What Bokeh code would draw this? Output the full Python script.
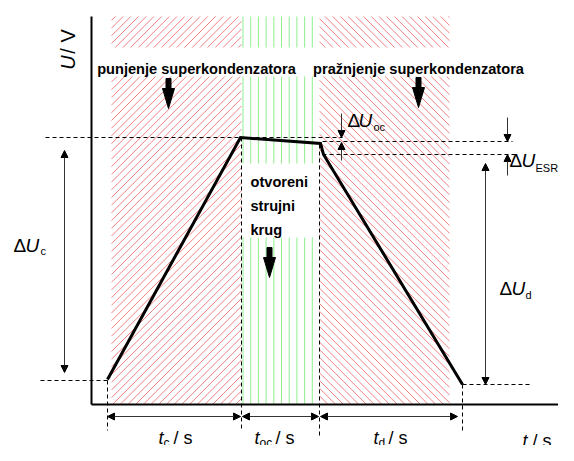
import numpy as np
from bokeh.plotting import figure
from bokeh.models import Range1d, Arrow, NormalHead
from bokeh.core.properties import value
from bokeh.embed import file_html
from bokeh.resources import INLINE

FONT = "Liberation Sans"

# --- schematic voltage curve (t, U) in drawing units ---
curve_t = [107, 240, 320, 323, 462]
curve_u = [379, 137, 143, 154, 384]

# --- zones ---
charge_zone = [111, 241]
oc_zone = [242, 313]
dis_zone = [319, 449]
red_bands = [[16, 47], [76, 404]]
green_bands = [[16, 47], [76, 163], [237, 404]]

# --- dashed guide lines: x0, y0, x1, y1 ---
dash_x0 = [45, 322, 322, 40, 107, 241, 319, 462, 462]
dash_y0 = [137, 141, 154, 380, 380, 137, 144, 384, 384]
dash_x1 = [342, 512, 515, 107, 107, 241, 319, 530, 462]
dash_y1 = [137, 141, 154, 380, 430, 430, 435, 384, 430]

# --- thin arrows: x0, y0, x1, y1, double-headed ---
arr_x0 = [64, 485, 341, 341, 507, 507, 107, 242, 320]
arr_y0 = [150, 163, 113, 160, 117, 175, 416, 416, 416]
arr_x1 = [64, 485, 341, 341, 507, 507, 240, 318, 457]
arr_y1 = [372, 384, 137, 142, 141, 154, 416, 416, 416]
arr_double = [True, True, False, False, False, False, True, True, True]

# --- fat arrows: centre x, top, tip ---
fat_x = [168, 418, 269]
fat_top = [78, 77, 247]
fat_tip = [108, 107, 277]

# --- texts ---
phase_text = ["punjenje superkondenzatora", "pražnjenje superkondenzatora"]
phase_x = [196, 418]
phase_y = [68, 68]
oc_text = ["otvoreni", "strujni", "krug"]
oc_x = [250, 250, 250]
oc_y = [181, 205, 229]

delta_x = [13, 499, 347, 509]
delta_y = [245, 288, 120, 160]
deltaU_x = [25, 511, 358, 521]
delta_sub = ["c", "d", "oc", "ESR"]
delta_sub_x = [40, 525, 373, 535]
delta_sub_y = [250, 294, 126, 167]

t_x = [158, 254, 373, 522]
t_y = [437, 437, 437, 440]
t_sub = ["c", "oc", "d"]
t_sub_x = [163, 259, 378]
t_sub_y = [442, 442, 442]
t_unit_x = [173, 275, 388, 532]

p = figure(width=558, height=445, x_range=Range1d(0, 558), y_range=Range1d(445, 0),
           output_backend="svg", toolbar_location=None, min_border=0,
           x_axis_location=None, y_axis_location=None)
p.outline_line_color = None
p.grid.visible = False
p.background_fill_color = "white"
p.border_fill_color = "white"

# ---- hatching (drawn as line segments clipped to each band) ----
STEP = 7.7

def diag_segments(zx, bands, direction):
    x0s, y0s, x1s, y1s = [], [], [], []
    l, r = zx
    for t, b in bands:
        if direction > 0:   # "/" : x + y = c
            cs = np.arange(0, 1200, STEP)
            for c in cs:
                xa, xb = max(l, c - b), min(r, c - t)
                if xb > xa:
                    x0s += [xa]; y0s += [c - xa]; x1s += [xb]; y1s += [c - xb]
        else:               # "\" : x - y = c
            cs = np.arange(-600, 600, STEP)
            for c in cs:
                xa, xb = max(l, c + t), min(r, c + b)
                if xb > xa:
                    x0s += [xa]; y0s += [xa - c]; x1s += [xb]; y1s += [xb - c]
    return x0s, y0s, x1s, y1s

def vert_segments(zx, bands):
    x0s, y0s, x1s, y1s = [], [], [], []
    xs = np.arange(zx[0] + 0.5, zx[1], STEP)
    for t, b in bands:
        for x in xs:
            x0s += [x]; y0s += [t]; x1s += [x]; y1s += [b]
    return x0s, y0s, x1s, y1s

for segs, col in [(diag_segments(charge_zone, red_bands, +1), "#f08080"),
                  (diag_segments(dis_zone, red_bands, -1), "#f08080"),
                  (vert_segments(oc_zone, green_bands), "#90ee90")]:
    p.segment(x0=segs[0], y0=segs[1], x1=segs[2], y1=segs[3],
              line_color=col, line_width=1)

# axes lines
p.segment(x0=[91, 91], y0=[16, 404], x1=[91, 558], y1=[404, 404],
          line_color="black", line_width=2)

# dashed lines
p.segment(x0=dash_x0, y0=dash_y0, x1=dash_x1, y1=dash_y1,
          line_color="black", line_width=1, line_dash="4 3")

# curve
p.line(curve_t, curve_u, line_color="black", line_width=3, line_join="miter")

# thin arrows
for x0, y0, x1, y1, dbl in zip(arr_x0, arr_y0, arr_x1, arr_y1, arr_double):
    p.add_layout(Arrow(x_start=x0, y_start=y0, x_end=x1, y_end=y1,
                       line_color="#333333", line_width=1,
                       end=NormalHead(size=7, fill_color="black", line_color="black"),
                       start=NormalHead(size=7, fill_color="black", line_color="black") if dbl else None))

# fat arrows
fxs, fys = [], []
for cx, top, tip in zip(fat_x, fat_top, fat_tip):
    hs = top + 10
    fxs.append([cx - 2.5, cx + 2.5, cx + 2.5, cx + 6, cx, cx - 6, cx - 2.5])
    fys.append([top, top, hs, hs, tip, hs, hs])
p.patches(fxs, fys, fill_color="black", line_color="black")

# texts
p.text(x=phase_x, y=phase_y, text=phase_text, text_font=value(FONT),
       text_font_style="bold", text_font_size="14.6px", text_align="center",
       text_baseline="alphabetic", text_color="black")
p.text(x=oc_x, y=oc_y, text=oc_text, text_font=value(FONT),
       text_font_style="bold", text_font_size="14.6px", text_align="left",
       text_baseline="alphabetic", text_color="black")

p.text(x=delta_x, y=delta_y, text=["Δ"] * 4, text_font=value(FONT),
       text_font_size="19px", text_baseline="alphabetic", text_color="black")
p.text(x=deltaU_x, y=delta_y, text=["U"] * 4, text_font=value(FONT),
       text_font_style="italic", text_font_size="19px",
       text_baseline="alphabetic", text_color="black")
p.text(x=delta_sub_x, y=delta_sub_y, text=delta_sub, text_font=value(FONT),
       text_font_size="11px", text_baseline="alphabetic", text_color="black")

p.text(x=t_x, y=t_y, text=["t"] * 4, text_font=value(FONT),
       text_font_style="italic", text_font_size="18px",
       text_baseline="alphabetic", text_color="black")
p.text(x=t_sub_x, y=t_sub_y, text=t_sub, text_font=value(FONT),
       text_font_size="12px", text_baseline="alphabetic", text_color="black")
p.text(x=t_unit_x, y=t_y, text=["/ s"] * 4, text_font=value(FONT),
       text_font_size="18px", text_baseline="alphabetic", text_color="black")

# y-axis title (rotated)
p.text(x=[67], y=[62], text=["U"], angle=np.pi / 2, text_font=value(FONT),
       text_font_style="italic", text_font_size="20px", text_align="center",
       text_baseline="middle", text_color="black")
p.text(x=[67], y=[41], text=["/ V"], angle=np.pi / 2, text_font=value(FONT),
       text_font_size="20px", text_align="center",
       text_baseline="middle", text_color="black")

open("out.html", "w").write(file_html(p, INLINE))
